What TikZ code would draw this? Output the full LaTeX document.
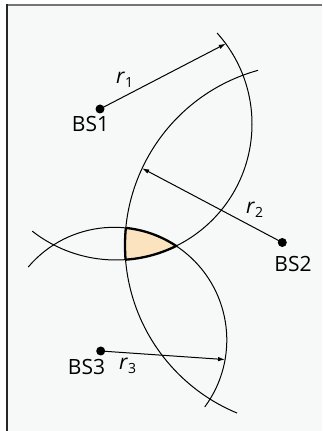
\documentclass[tikz,border=0pt]{standalone}
\usepackage{fontspec}
\setmainfont{Open Sans}
\usetikzlibrary{arrows.meta,calc}
\definecolor{bgc}{HTML}{F7F9F9}
\definecolor{lensc}{HTML}{FAE3BE}
\definecolor{topc}{HTML}{757575}
\definecolor{leftc}{HTML}{262626}
\newcommand\rlab[1]{\textit{r}\raisebox{-3.8pt}{\fontsize{14}{14}\selectfont #1}}
\begin{document}
\begin{tikzpicture}[x=1pt,y=1pt,
  arcline/.style={line width=1pt},
  lensedge/.style={line width=2.3pt},
  radline/.style={line width=1pt,-{Latex[length=7pt,width=4.5pt]}},
  station/.style={circle,fill=black,inner sep=0pt,minimum size=9pt},
  lbl/.style={inner sep=0pt,font=\fontsize{21}{24}\selectfont}]
\useasboundingbox (0,0) rectangle (322,431);
\fill[white] (0,0) rectangle (322,431);
\fill[bgc] (7,0) rectangle (322,426);
\draw[line width=2pt,topc] (6,426) -- (322,426);
\draw[line width=2pt,leftc] (7,0) -- (7,427);
% circle centres
\coordinate (c1) at (116,307);
\coordinate (c2) at (306.6,185.7);
\coordinate (c3) at (114.1,91);
% lens fill
\begin{scope}
  \clip (c1) circle[radius=136];
  \clip (c3) circle[radius=112.7];
  \fill[lensc] (c2) circle[radius=181.6];
\end{scope}
% arcs
\draw[arcline] (c1) ++(42:136) arc[start angle=42,end angle=-128,radius=136];
\draw[arcline] (c2) ++(105.5:181.6) arc[start angle=105.5,end angle=247.5,radius=181.6];
\draw[arcline] (c3) ++(139.7:112.7) arc[start angle=139.7,end angle=-36.4,radius=112.7];
% lens border
\begin{scope}
  \clip (c3) circle[radius=112.7];
  \clip (c2) circle[radius=181.6];
  \draw[lensedge] (c1) circle[radius=136];
\end{scope}
\begin{scope}
  \clip (c1) circle[radius=136];
  \clip (c2) circle[radius=181.6];
  \draw[lensedge] (c3) circle[radius=112.7];
\end{scope}
\begin{scope}
  \clip (c1) circle[radius=136];
  \clip (c3) circle[radius=112.7];
  \draw[lensedge] (c2) circle[radius=181.6];
\end{scope}
% stations
\node[station] (bs1) at (100,322) {};
\node[station] (bs2) at (282.3,188.5) {};
\node[station] (bs3) at (100.7,80) {};
\node[lbl] (bs1l) at (90.5,306.5) {BS1};
\node[lbl] (bs2l) at (293,166.5) {BS2};
\node[lbl] (bs3l) at (86.5,64) {BS3};
% radius arrows
\coordinate (t1) at ($(c1)+(36.2:136)$);
\coordinate (t2) at ($(c2)+(154.9:181.6)$);
\coordinate (t3) at ($(c3)+(-10:112.7)$);
\draw[radline] (bs1.center) -- (t1);
\draw[radline] (bs2.center) -- (t2);
\draw[radline] (bs3.center) -- (t3);
\node[lbl,anchor=base west] (r1l) at (116,347.7) {\rlab{1}};
\node[lbl,anchor=base west] (r2l) at (246,217.7) {\rlab{2}};
\node[lbl,anchor=base west] (r3l) at (119,61) {\rlab{3}};
\end{tikzpicture}
\end{document}
